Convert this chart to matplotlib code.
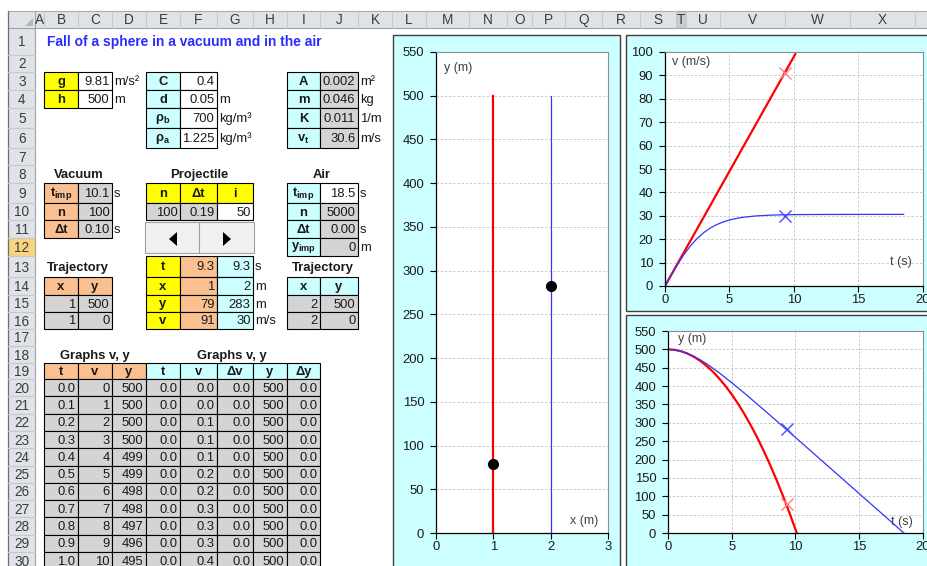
import matplotlib
matplotlib.use('Agg')
import matplotlib.pyplot as plt
from matplotlib.patches import Rectangle, Polygon

plt.rcParams['font.family'] = ['Liberation Sans', 'DejaVu Sans']
plt.rcParams['mathtext.fontset'] = 'custom'
plt.rcParams['mathtext.rm'] = 'Liberation Sans'
plt.rcParams['mathtext.bf'] = 'Liberation Sans:bold'
plt.rcParams['mathtext.it'] = 'Liberation Sans:italic'

# ------------------------------------------------------------------ data
title = "Fall of a sphere in a vacuum and in the air"

# time marker (projectile, i = 50)
t_mark = 9.3
vac_x_mark, air_x_mark = 1, 2
vac_y_mark, air_y_mark = 79, 283
vac_v_mark, air_v_mark = 91, 30

# trajectories (x, y)
vac_traj_x = [1, 1]
vac_traj_y = [500, 0]
air_traj_x = [2, 2]
air_traj_y = [500, 0]

# velocity vs time
vac_v_t = [0, 10.1]
vac_v = [0, 99.1]
air_v_t = [0, 0.5, 1, 1.5, 2, 2.5, 3, 3.5, 4, 4.5, 5, 5.5, 6, 7, 8, 9, 10, 12, 14, 16, 18.5]
air_v = [0, 4.86, 9.49, 13.68, 17.31, 20.34, 22.80, 24.73, 26.22, 27.36, 28.21, 28.85,
         29.33, 29.92, 30.24, 30.41, 30.50, 30.57, 30.59, 30.60, 30.60]

# height vs time
vac_y_t = [0, 0.5, 1, 1.5, 2, 2.5, 3, 3.5, 4, 4.5, 5, 5.5, 6, 6.5, 7, 7.5, 8, 8.5, 9, 9.5, 10, 10.1]
vac_y = [500, 498.8, 495.1, 489.0, 480.4, 469.3, 455.9, 439.9, 421.5, 400.7, 377.4, 351.6,
         323.4, 292.8, 259.7, 224.1, 186.1, 145.6, 102.7, 57.3, 9.5, 0]
air_y_t = [0, 0.5, 1, 1.5, 2, 2.5, 3, 4, 5, 6, 7, 8, 9, 10, 11, 12, 13, 14, 15, 16, 17, 18, 18.5]
air_y = [500, 498.8, 495.2, 489.3, 481.6, 472.1, 461.4, 436.6, 409.2, 380.5, 350.9, 320.8,
         290.5, 260.0, 229.5, 198.9, 168.3, 137.7, 107.1, 76.5, 45.9, 15.3, 0]

# spreadsheet tables
tbl_t = ['0.0', '0.1', '0.2', '0.3', '0.4', '0.5', '0.6', '0.7', '0.8', '0.9', '1.0']
tbl_v = ['0', '1', '2', '3', '4', '5', '6', '7', '8', '9', '10']
tbl_y = ['500', '500', '500', '500', '499', '499', '498', '498', '497', '496', '495']
tbl_ta = ['0.0'] * 11
tbl_va = ['0.0', '0.0', '0.1', '0.1', '0.1', '0.2', '0.2', '0.3', '0.3', '0.3', '0.4']
tbl_dv = ['0.0'] * 11
tbl_ya = ['500'] * 11
tbl_dy = ['0.0'] * 11

# ------------------------------------------------------------------ figure
W, H = 928, 566
fig = plt.figure(figsize=(W / 100, H / 100), dpi=100)
ax0 = fig.add_axes([0, 0, 1, 1])
ax0.set_xlim(0, W)
ax0.set_ylim(H, 0)
ax0.axis('off')

FS = 9.4
YEL = '#FFFF00'
CYA = '#CCFFFF'
ORA = '#FAC090'
GRY = '#D4D4D4'
WHT = '#FFFFFF'
TXT = '#1A1A1A'

col_names = list('ABCDEFGHIJKLMNOPQRSTUVWXY')
col_edges = [35, 44, 78, 112, 146, 180, 217, 253, 287, 320, 358, 392, 426, 469, 507,
             532, 565, 602, 640, 676, 686, 720, 785, 850, 915, 980]
cols = {c: (col_edges[i], col_edges[i + 1]) for i, c in enumerate(col_names)}

tops = {1: 28, 2: 55, 3: 72, 4: 90, 5: 108, 6: 128, 7: 148, 8: 165, 9: 183, 10: 203,
        11: 220, 12: 238, 13: 256, 14: 277, 15: 295, 16: 312, 17: 329, 18: 346, 19: 363}
for r in range(20, 33):
    tops[r] = 379 + 17.3 * (r - 20)

# header row and row-number column
HDR = '#DFE3E8'
SEP = '#C3C8CF'
ax0.add_patch(Rectangle((8, 11), W, 17, facecolor=HDR, edgecolor='none'))
ax0.plot([8, W], [11, 11], color='#A8ADB4', lw=0.8)
ax0.plot([8, W], [28, 28], color='#9EA3AA', lw=0.8)
for i, c in enumerate(col_names):
    x0, x1 = cols[c]
    if c == 'T':
        ax0.add_patch(Rectangle((x0, 11), x1 - x0, 17, facecolor='#C9CDD3', edgecolor='none'))
    ax0.plot([x1, x1], [11, 28], color=SEP, lw=0.8)
    if c != 'Y':
        ax0.text((x0 + x1) / 2, 20, c, ha='center', va='center', fontsize=9.8, color='#3C3C3C')
ax0.add_patch(Rectangle((8, 28), 27, H, facecolor=HDR, edgecolor='none'))
ax0.plot([8, 8], [11, H], color='#6E6E6E', lw=0.9)
ax0.plot([35, 35], [11, H], color='#9EA3AA', lw=0.8)
ax0.add_patch(Polygon([(33, 18), (33, 26), (25, 26)], closed=True, facecolor='#B4B8BE', edgecolor='none'))
for r in range(1, 31):
    y0, y1 = tops[r], tops[r + 1]
    if r == 12:
        ax0.add_patch(Rectangle((8, y0), 27, y1 - y0, facecolor='#F8D583', edgecolor='#E3B04B', lw=0.8))
    ax0.plot([8, 35], [y1, y1], color=SEP, lw=0.8)
    ax0.text(22, (y0 + y1) / 2 + 1, str(r), ha='center', va='center', fontsize=9.8, color='#3C3C3C')


def cell(c, r, text='', bg=WHT, bold=False, ha='right', border=True):
    x0, x1 = cols[c]
    y0, y1 = tops[r], tops[r + 1]
    ax0.add_patch(Rectangle((x0, y0), x1 - x0, y1 - y0, facecolor=bg,
                            edgecolor='black' if border else 'none', lw=0.8, zorder=2))
    if ha == 'right':
        x = x1 - 2.5
    elif ha == 'center':
        x = (x0 + x1) / 2
    else:
        x = x0 + 2
    ax0.text(x, (y0 + y1) / 2 + 1, text, ha=ha, va='center', fontsize=FS, color=TXT,
             fontweight='bold' if bold else 'normal', zorder=3)


def unit(c, r, text):
    x0, _ = cols[c]
    y0, y1 = tops[r], tops[r + 1]
    ax0.text(x0 + 2, (y0 + y1) / 2 + 1, text, ha='left', va='center', fontsize=FS, color=TXT, zorder=3)


def label(xc, r, text):
    y0, y1 = tops[r], tops[r + 1]
    ax0.text(xc, (y0 + y1) / 2 + 1, text, ha='center', va='center', fontsize=FS,
             fontweight='bold', color=TXT, zorder=3)


# title
ax0.text(47, 42, title, ha='left', va='center', fontsize=9.9, fontweight='bold', color='#2B2BFF')

# constants
cell('B', 3, 'g', YEL, True, 'center'); cell('C', 3, '9.81'); unit('D', 3, 'm/s²')
cell('B', 4, 'h', YEL, True, 'center'); cell('C', 4, '500'); unit('D', 4, 'm')
cell('E', 3, 'C', CYA, True, 'center'); cell('F', 3, '0.4')
cell('E', 4, 'd', CYA, True, 'center'); cell('F', 4, '0.05'); unit('G', 4, 'm')
cell('E', 5, r'$\mathbf{ρ_b}$', CYA, False, 'center'); cell('F', 5, '700'); unit('G', 5, 'kg/m³')
cell('E', 6, r'$\mathbf{ρ_a}$', CYA, False, 'center'); cell('F', 6, '1.225'); unit('G', 6, 'kg/m³')
cell('I', 3, 'A', CYA, True, 'center'); cell('J', 3, '0.002', GRY); unit('K', 3, 'm²')
cell('I', 4, 'm', CYA, True, 'center'); cell('J', 4, '0.046', GRY); unit('K', 4, 'kg')
cell('I', 5, 'K', CYA, True, 'center'); cell('J', 5, '0.011', GRY); unit('K', 5, '1/m')
cell('I', 6, r'$\mathbf{v_t}$', CYA, False, 'center'); cell('J', 6, '30.6', GRY); unit('K', 6, 'm/s')

# vacuum / projectile / air blocks
label(78.5, 8, 'Vacuum'); label(199, 8, 'Projectile'); label(322, 8, 'Air')
cell('B', 9, r'$\mathbf{t_{imp}}$', ORA, False, 'center'); cell('C', 9, '10.1', GRY); unit('D', 9, 's')
cell('B', 10, 'n', ORA, True, 'center'); cell('C', 10, '100', GRY)
cell('B', 11, 'Δt', ORA, True, 'center'); cell('C', 11, '0.10', GRY); unit('D', 11, 's')
cell('E', 9, 'n', YEL, True, 'center'); cell('F', 9, 'Δt', YEL, True, 'center'); cell('G', 9, 'i', YEL, True, 'center')
cell('E', 10, '100', GRY); cell('F', 10, '0.19', GRY); cell('G', 10, '50')
cell('I', 9, r'$\mathbf{t_{imp}}$', CYA, False, 'center'); cell('J', 9, '18.5'); unit('K', 9, 's')
cell('I', 10, 'n', CYA, True, 'center'); cell('J', 10, '5000', GRY)
cell('I', 11, 'Δt', CYA, True, 'center'); cell('J', 11, '0.00', GRY); unit('K', 11, 's')
cell('I', 12, r'$\mathbf{y_{imp}}$', CYA, False, 'center'); cell('J', 12, '0', GRY); unit('K', 12, 'm')

# scroll buttons
ax0.add_patch(Rectangle((145, 222), 54, 31, facecolor='#F0F0F0', edgecolor='#A0A0A0', lw=0.8, zorder=2))
ax0.add_patch(Rectangle((199, 222), 55, 31, facecolor='#F0F0F0', edgecolor='#A0A0A0', lw=0.8, zorder=2))
ax0.add_patch(Polygon([(169, 239), (177, 232), (177, 246)], closed=True, facecolor='black', zorder=3))
ax0.add_patch(Polygon([(223, 232), (223, 246), (231, 239)], closed=True, facecolor='black', zorder=3))

# trajectory / projectile state
label(78, 13, 'Trajectory'); label(323, 13, 'Trajectory')
cell('B', 14, 'x', ORA, True, 'center'); cell('C', 14, 'y', ORA, True, 'center')
cell('B', 15, str(vac_traj_x[0]), GRY); cell('C', 15, str(vac_traj_y[0]), GRY)
cell('B', 16, str(vac_traj_x[1]), GRY); cell('C', 16, str(vac_traj_y[1]), GRY)
cell('I', 14, 'x', CYA, True, 'center'); cell('J', 14, 'y', CYA, True, 'center')
cell('I', 15, str(air_traj_x[0]), GRY); cell('J', 15, str(air_traj_y[0]), GRY)
cell('I', 16, str(air_traj_x[1]), GRY); cell('J', 16, str(air_traj_y[1]), GRY)
proj_names = ['t', 'x', 'y', 'v']
proj_vac = ['9.3', str(vac_x_mark), str(vac_y_mark), str(vac_v_mark)]
proj_air = ['9.3', str(air_x_mark), str(air_y_mark), str(air_v_mark)]
proj_units = ['s', 'm', 'm', 'm/s']
for k in range(4):
    r = 13 + k
    cell('E', r, proj_names[k], YEL, True, 'center')
    cell('F', r, proj_vac[k], ORA)
    cell('G', r, proj_air[k], CYA)
    unit('H', r, proj_units[k])

# graphs tables
label(95, 18, 'Graphs v, y'); label(232, 18, 'Graphs v, y')
for c, s in zip('BCD', ['t', 'v', 'y']):
    cell(c, 19, s, ORA, True, 'center')
for c, s in zip('EFGHI', ['t', 'v', 'Δv', 'y', 'Δy']):
    cell(c, 19, s, CYA, True, 'center')
for k in range(11):
    r = 20 + k
    for c, arr in zip('BCDEFGHI', [tbl_t, tbl_v, tbl_y, tbl_ta, tbl_va, tbl_dv, tbl_ya, tbl_dy]):
        cell(c, r, arr[k], GRY)

# ------------------------------------------------------------------ charts
EDGE = '#3F3F3F'
for (x0, y0, x1, y1) in [(393, 35, 620, 600), (626, 35, 960, 311), (626, 315, 960, 600)]:
    ax0.add_patch(Rectangle((x0, y0), x1 - x0, y1 - y0, facecolor=CYA, edgecolor=EDGE, lw=1.0, zorder=1))


def make_ax(l, t, r, b):
    ax = fig.add_axes([l / W, 1 - b / H, (r - l) / W, (b - t) / H])
    ax.set_facecolor('white')
    for s in ['left', 'bottom']:
        ax.spines[s].set_color('black')
        ax.spines[s].set_linewidth(0.9)
    for s in ['top', 'right']:
        ax.spines[s].set_color('#8C8C8C')
        ax.spines[s].set_linewidth(0.8)
    ax.tick_params(direction='out', length=4, width=0.8, labelsize=FS, colors='black',
                   labelcolor='#1A1A1A')
    ax.tick_params(axis='y', pad=4.5)
    ax.tick_params(axis='x', pad=1.5)
    ax.set_axisbelow(True)
    return ax


GRID = dict(color='#C4C4C4', lw=0.6, linestyle=(0, (3, 2)))
LBL = dict(fontsize=9, color='#404040')

# chart 1: trajectories
ax1 = make_ax(436, 52, 608, 533)
ax1.set_xlim(0, 3); ax1.set_ylim(0, 550)
ax1.set_xticks([0, 1, 2, 3]); ax1.set_yticks(range(0, 551, 50))
ax1.yaxis.grid(True, **GRID)
ax1.plot(vac_traj_x, vac_traj_y, color='#FF0000', lw=1.6)
ax1.plot(air_traj_x, air_traj_y, color='#3333FF', lw=0.9)
ax1.plot([vac_x_mark, air_x_mark], [vac_y_mark, air_y_mark], 'o', color='black', ms=7, zorder=5)
ax1.text(444, 68, 'y (m)', ha='left', va='center', transform=ax0.transData, **LBL)
ax1.text(598, 521, 'x (m)', ha='right', va='center', transform=ax0.transData, **LBL)

# chart 2: velocity
ax2 = make_ax(665, 52, 923, 286)
ax2.set_xlim(0, 20); ax2.set_ylim(0, 100)
ax2.set_xticks(range(0, 21, 5)); ax2.set_yticks(range(0, 101, 10))
ax2.grid(True, **GRID)
ax2.plot(vac_v_t, vac_v, color='#FF0000', lw=1.6)
ax2.plot(air_v_t, air_v, color='#3333FF', lw=0.9)
ax2.plot([t_mark], [vac_v_mark], 'x', color='#FF7F7F', ms=8.5, mew=1.0, zorder=5)
ax2.plot([t_mark], [air_v_mark], 'x', color='#4D4DFF', ms=8.5, mew=1.0, zorder=5)
ax2.text(672, 62, 'v (m/s)', ha='left', va='center', transform=ax0.transData, **LBL)
ax2.text(912, 262, 't (s)', ha='right', va='center', transform=ax0.transData, **LBL)

# chart 3: height
ax3 = make_ax(668, 331, 923, 533)
ax3.set_xlim(0, 20); ax3.set_ylim(0, 550)
ax3.set_xticks(range(0, 21, 5)); ax3.set_yticks(range(0, 551, 50))
ax3.grid(True, **GRID)
ax3.plot(vac_y_t, vac_y, color='#FF0000', lw=1.6)
ax3.plot(air_y_t, air_y, color='#3333FF', lw=0.9)
ax3.plot([t_mark], [vac_y_mark], 'x', color='#FF7F7F', ms=8.5, mew=1.0, zorder=5)
ax3.plot([t_mark], [air_y_mark], 'x', color='#4D4DFF', ms=8.5, mew=1.0, zorder=5)
ax3.text(678, 339, 'y (m)', ha='left', va='center', transform=ax0.transData, **LBL)
ax3.text(913, 522, 't (s)', ha='right', va='center', transform=ax0.transData, **LBL)

fig.savefig('out.png', dpi=100)
